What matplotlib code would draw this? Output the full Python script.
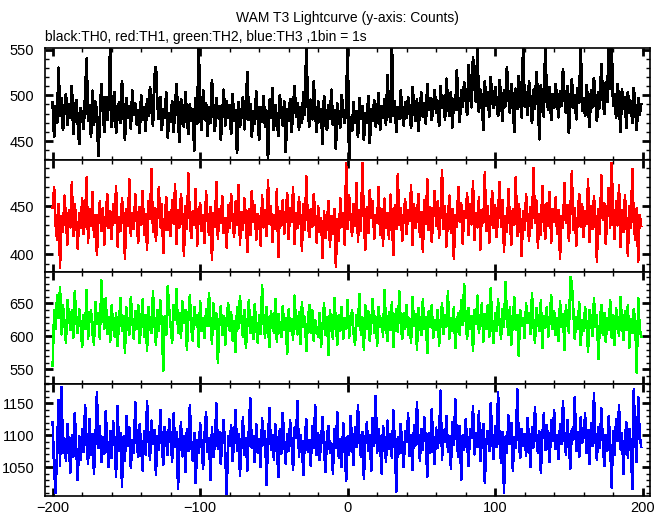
import matplotlib
matplotlib.use("Agg")
import matplotlib.pyplot as plt
import numpy as np
from matplotlib.ticker import MultipleLocator

# time bins, 1 bin = 1 s
t_start = -200
n_bins = 400

th0 = [
    492, 455, 488, 470, 530, 478, 497, 462, 485, 501, 468, 490, 476, 510, 458, 482, 495, 471, 447, 486,
    478, 463, 499, 540, 472, 489, 455, 505, 468, 493, 481, 434, 476, 512, 487, 460, 498, 473, 490, 555,
    466, 485, 503, 459, 478, 492, 470, 515, 483, 452, 497, 476, 488, 464, 505, 479, 491, 468, 484, 459,
    500, 473, 487, 461, 495, 478, 509, 486, 467, 520, 531, 490, 474, 498, 462, 485, 476, 503, 454, 480,
    471, 493, 460, 488, 512, 475, 449, 496, 482, 466, 503, 478, 458, 490, 472, 485, 440, 497, 469, 555,
    480, 462, 505, 474, 491, 456, 487, 470, 516, 483, 461, 497, 475, 488, 452, 479, 506, 467, 493, 476,
    489, 458, 501, 472, 484, 437, 492, 466, 480, 498, 463, 486, 525, 473, 490, 455, 482, 469, 504, 478,
    452, 487, 471, 499, 466, 483, 431, 495, 476, 508, 462, 489, 474, 456, 500, 481, 467, 493, 438, 485,
    472, 496, 460, 484, 510, 477, 491, 463, 487, 470, 503, 479, 555, 488, 466, 495, 474, 515, 482, 460,
    493, 471, 485, 447, 499, 478, 462, 489, 474, 506, 468, 484, 442, 491, 477, 465, 500, 481, 470, 488,
    555, 430, 476, 461, 492, 470, 483, 455, 497, 474, 488, 452, 480, 470, 499, 448, 485, 472, 494, 466,
    479, 502, 463, 488, 475, 496, 468, 522, 484, 471, 555, 478, 493, 460, 487, 474, 505, 481, 467, 492,
    476, 498, 483, 465, 509, 488, 472, 495, 461, 486, 503, 477, 491, 469, 512, 484, 497, 473, 488, 506,
    481, 494, 467, 510, 486, 499, 474, 518, 490, 478, 503, 465, 496, 484, 527, 492, 471, 505, 488, 514,
    496, 479, 533, 502, 487, 541, 510, 493, 555, 482, 506, 498, 462, 515, 489, 503, 477, 520, 494, 486,
    509, 491, 478, 516, 497, 472, 505, 488, 530, 499, 481, 512, 494, 460, 507, 485, 521, 496, 476, 555,
    488, 503, 479, 515, 494, 470, 506, 486, 525, 498, 452, 511, 490, 477, 555, 496, 484, 509, 473, 501,
    487, 512, 495, 476, 504, 489, 528, 498, 481, 510, 459, 493, 517, 486, 500, 474, 508, 492, 555, 483,
    497, 478, 511, 490, 466, 505, 487, 519, 495, 472, 503, 486, 534, 499, 480, 514, 493, 555, 507, 555,
    489, 501, 476, 512, 494, 460, 506, 485, 498, 465, 503, 481, 494, 470, 508, 486, 462, 497, 479, 490,
]

th1 = [
    448, 470, 431, 415, 452, 386, 440, 423, 461, 437, 410, 446, 428, 475, 419, 452, 434, 406, 443, 427,
    458, 421, 439, 480, 412, 447, 430, 465, 418, 441, 399, 436, 455, 424, 448, 410, 439, 462, 427, 445,
    416, 452, 433, 471, 408, 439, 424, 458, 441, 395, 447, 430, 478, 419, 443, 426, 462, 435, 412, 449,
    431, 466, 420, 442, 405, 455, 437, 489, 423, 448, 414, 440, 470, 428, 452, 401, 437, 459, 425, 444,
    419, 456, 432, 473, 411, 446, 428, 463, 439, 398, 450, 426, 484, 435, 417, 445, 431, 468, 409, 440,
    453, 424, 441, 412, 466, 437, 420, 449, 394, 443, 429, 475, 416, 447, 433, 460, 422, 438, 407, 451,
    428, 463, 436, 418, 455, 431, 472, 410, 444, 425, 458, 438, 402, 447, 420, 466, 434, 451, 415, 442,
    437, 409, 461, 428, 446, 419, 477, 432, 450, 413, 441, 426, 468, 397, 445, 430, 456, 421, 439, 464,
    416, 448, 434, 470, 411, 443, 427, 459, 438, 404, 452, 425, 481, 433, 418, 447, 429, 462, 441, 412,
    450, 423, 438, 396, 445, 417, 432, 455, 408, 440, 421, 447, 387, 436, 414, 458, 429, 443, 410, 495,
    426, 461, 437, 419, 452, 430, 474, 413, 446, 424, 495, 435, 405, 449, 422, 467, 438, 455, 416, 441,
    433, 470, 420, 447, 409, 458, 428, 443, 416, 462, 437, 399, 451, 426, 483, 431, 448, 414, 440, 457,
    421, 446, 435, 472, 410, 452, 427, 439, 463, 418, 444, 402, 456, 432, 478, 425, 449, 413, 438, 466,
    430, 455, 417, 443, 488, 426, 450, 408, 437, 461, 422, 447, 395, 441, 429, 470, 434, 453, 411, 445,
    438, 464, 420, 452, 431, 476, 415, 443, 428, 459, 405, 446, 433, 485, 424, 450, 412, 439, 466, 427,
    451, 418, 442, 475, 429, 456, 403, 440, 423, 468, 436, 410, 447, 431, 480, 419, 452, 438, 398, 445,
    425, 462, 437, 414, 449, 428, 490, 433, 456, 407, 442, 420, 471, 439, 416, 453, 430, 465, 412, 447,
    434, 459, 421, 446, 395, 440, 427, 474, 433, 451, 414, 444, 486, 425, 448, 409, 438, 463, 429, 452,
    418, 445, 432, 478, 413, 450, 426, 460, 438, 392, 447, 421, 482, 436, 453, 411, 441, 469, 427, 495,
    440, 416, 455, 430, 472, 408, 446, 423, 461, 435, 398, 450, 427, 489, 433, 415, 448, 392, 441, 430,
]

th2 = [
    556, 640, 612, 662, 628, 675, 603, 648, 620, 590, 655, 632, 610, 640, 598, 668, 625, 605, 642, 617,
    584, 633, 611, 670, 596, 627, 640, 605, 588, 652, 619, 635, 596, 685, 640, 612, 658, 604, 629, 592,
    647, 615, 600, 636, 586, 622, 658, 608, 631, 575, 644, 617, 603, 660, 625, 596, 639, 612, 648, 590,
    621, 656, 600, 632, 578, 645, 614, 605, 668, 622, 587, 640, 608, 655, 617, 548, 630, 602, 676, 642,
    615, 590, 648, 625, 672, 606, 636, 598, 653, 620, 640, 580, 628, 662, 611, 594, 645, 618, 632, 585,
    654, 608, 627, 598, 641, 616, 666, 622, 589, 650, 612, 635, 560, 620, 646, 603, 631, 587, 627, 650,
    609, 637, 594, 623, 576, 644, 612, 661, 626, 599, 640, 583, 617, 655, 605, 630, 596, 649, 615, 591,
    632, 604, 678, 621, 598, 645, 613, 584, 638, 622, 606, 657, 592, 634, 617, 599, 646, 610, 628, 573,
    641, 609, 626, 595, 662, 618, 603, 637, 589, 652, 614, 630, 578, 622, 648, 606, 640, 594, 625, 611,
    600, 636, 585, 618, 650, 602, 629, 572, 640, 614, 597, 658, 620, 588, 633, 609, 645, 596, 627, 612,
    655, 598, 622, 640, 606, 587, 633, 616, 664, 602, 629, 580, 647, 611, 638, 594, 621, 657, 605, 630,
    586, 645, 614, 628, 600, 670, 618, 593, 637, 610, 652, 584, 625, 641, 607, 668, 620, 596, 635, 612,
    648, 603, 627, 590, 660, 616, 634, 580, 643, 619, 602, 656, 611, 629, 575, 638, 615, 647, 598, 624,
    610, 640, 586, 622, 651, 604, 633, 615, 668, 597, 628, 609, 644, 582, 620, 636, 603, 655, 617, 680,
    625, 596, 643, 612, 631, 578, 640, 619, 662, 605, 627, 650, 592, 634, 611, 647, 600, 673, 618, 590,
    635, 608, 656, 620, 597, 641, 614, 683, 630, 602, 645, 588, 624, 659, 610, 633, 571, 640, 616, 628,
    598, 650, 621, 636, 604, 666, 617, 590, 643, 626, 608, 655, 582, 631, 613, 644, 600, 627, 662, 611,
    639, 602, 628, 593, 654, 615, 634, 580, 647, 621, 606, 690, 680, 640, 596, 629, 611, 652, 587, 624,
    608, 645, 618, 576, 640, 625, 601, 658, 614, 632, 566, 620, 648, 603, 636, 592, 627, 610, 655, 598,
    632, 587, 643, 617, 601, 660, 622, 595, 638, 610, 648, 583, 626, 605, 641, 620, 545, 658, 612, 600,
]

th3 = [
    1120, 1045, 1010, 1078, 1155, 1053, 1175, 1072, 1095, 1060, 1118, 1083, 1042, 1100, 1067, 1135, 1079, 1030, 1098, 1062,
    1110, 1074, 1148, 1088, 1056, 1125, 1070, 1102, 1040, 1093, 1168, 1081, 1115, 1058, 1097, 1071, 1138, 1085, 1050, 1107,
    1064, 1122, 1090, 1035, 1146, 1076, 1103, 1020, 1098, 1060, 1130, 1084, 1112, 1049, 1092, 1073, 1152, 1088, 1066, 1117,
    1080, 1045, 1106, 1070, 1154, 1094, 1062, 1123, 1086, 1108, 1038, 1099, 1077, 1140, 1085, 1054, 1113, 1091, 1069, 1126,
    1097, 1058, 1134, 1082, 1105, 1016, 1089, 1120, 1067, 1098, 1043, 1110, 1075, 1147, 1087, 1060, 1104, 1025, 1093, 1072,
    1119, 1085, 1048, 1101, 1137, 1074, 1095, 1030, 1112, 1066, 1089, 1150, 1079, 1105, 1055, 1094, 1124, 1070, 1008, 1098,
    1083, 1116, 1060, 1090, 1140, 1076, 1102, 1037, 1087, 1128, 1069, 1096, 1045, 1108, 1158, 1080, 1099, 1058, 1118, 1073,
    1094, 1050, 1127, 1085, 1106, 1022, 1091, 1143, 1078, 1100, 1062, 1117, 1084, 1035, 1109, 1071, 1135, 1090, 1056, 1102,
    1075, 1123, 1088, 1046, 1112, 1096, 1154, 1067, 1101, 1083, 1038, 1097, 1125, 1074, 1092, 1052, 1114, 1080, 1147, 1069,
    1104, 1061, 1091, 1129, 1078, 1043, 1099, 1115, 1072, 1087, 1040, 1110, 1081, 1136, 1065, 1094, 1050, 1119, 1086, 1028,
    1098, 1070, 1130, 1089, 1054, 1113, 1082, 1148, 1093, 1066, 1105, 1032, 1091, 1120, 1076, 1100, 1045, 1127, 1084, 1162,
    1072, 1109, 1088, 1040, 1115, 1095, 1058, 1123, 1079, 1102, 1064, 1139, 1087, 1012, 1097, 1071, 1118, 1083, 1050, 1106,
    1090, 1134, 1068, 1101, 1046, 1116, 1084, 1152, 1093, 1060, 1110, 1077, 1128, 1089, 1035, 1103, 1073, 1141, 1086, 1055,
    1112, 1080, 1097, 1170, 1062, 1108, 1090, 1130, 1074, 1099, 1048, 1121, 1085, 1156, 1093, 1066, 1115, 1030, 1100, 1078,
    1125, 1088, 1052, 1110, 1096, 1145, 1070, 1103, 1082, 1138, 1060, 1094, 1118, 1025, 1089, 1107, 1075, 1150, 1095, 1063,
    1114, 1082, 1168, 1091, 1057, 1105, 1010, 1098, 1073, 1131, 1086, 1119, 1045, 1097, 1080, 1172, 1093, 1064, 1110, 1084,
    1102, 1068, 1127, 1090, 1050, 1113, 1081, 1144, 1095, 1072, 1106, 1041, 1099, 1134, 1077, 1116, 1089, 1058, 1123, 1092,
    1140, 1079, 1101, 1063, 1118, 1087, 1153, 1096, 1070, 1124, 1085, 1048, 1110, 1093, 1160, 1075, 1105, 1066, 1128, 1088,
    1097, 1134, 1072, 1108, 1055, 1119, 1083, 1166, 1094, 1061, 1113, 1080, 1142, 1090, 1052, 1101, 1076, 1130, 1086, 1018,
    1107, 1070, 1125, 1091, 1148, 1078, 1103, 1040, 1096, 1120, 1065, 1110, 1085, 1016, 1172, 1093, 1058, 1160, 1100, 1082,
]

series = [th0, th1, th2, th3]
colors = ["black", "#ff0000", "#00ff00", "#0000ff"]
widths = [1.3, 1.1, 1.1, 1.1]
ylims = [(429.6, 552), (381.7, 498.3), (528, 698), (1005, 1180.5)]

plt.rcParams["font.family"] = ["Liberation Sans", "DejaVu Sans"]

t = np.arange(t_start, t_start + n_bins)

fig, axes = plt.subplots(4, 1, figsize=(6.69, 5.15), dpi=100, sharex=True)
fig.subplots_adjust(left=0.0677, right=0.9716, top=0.9074, bottom=0.0369, hspace=0)

for ax, y, c, lw, yl in zip(axes, series, colors, widths, ylims):
    ax.plot(t, y, color=c, lw=lw, antialiased=False)
    ax.set_xlim(-205, 205)
    ax.set_ylim(*yl)
    ax.xaxis.set_major_locator(MultipleLocator(100))
    ax.xaxis.set_minor_locator(MultipleLocator(20))
    ax.yaxis.set_major_locator(MultipleLocator(50))
    ax.yaxis.set_minor_locator(MultipleLocator(10))
    ax.tick_params(which="both", direction="in", top=True, right=True,
                   labelsize=10.5)
    ax.tick_params(axis="y", pad=8)
    ax.tick_params(which="major", length=6, width=2)
    ax.tick_params(which="minor", length=3, width=1)
    for s in ax.spines.values():
        s.set_linewidth(1.2)

fig.text(0.52, 0.965, "WAM T3 Lightcurve (y-axis: Counts)", ha="center",
         va="center", fontsize=10)
fig.text(0.0677, 0.929, "black:TH0, red:TH1, green:TH2, blue:TH3 ,1bin = 1s",
         ha="left", va="center", fontsize=10)

fig.savefig("out.png", dpi=100)
